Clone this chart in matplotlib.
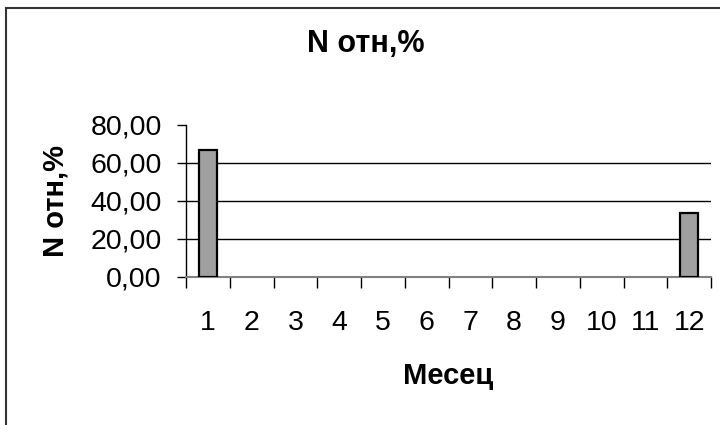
import matplotlib
matplotlib.use("Agg")
import matplotlib.pyplot as plt
from matplotlib.patches import Rectangle
import numpy as np

months = [1, 2, 3, 4, 5, 6, 7, 8, 9, 10, 11, 12]
values = [66.67, 0, 0, 0, 0, 0, 0, 0, 0, 0, 0, 33.33]
yticks = [0, 20, 40, 60, 80]
ytick_labels = ["0,00", "20,00", "40,00", "60,00", "80,00"]
title = "N отн,%"
ylabel = "N отн,%"
xlabel = "Месец"

plt.rcParams['font.family'] = ['Liberation Sans', 'DejaVu Sans']

fig = plt.figure(figsize=(7.2, 4.25), dpi=100)
W, H = 720, 425
# outer chart border (cropped on right/bottom)
fig.patches.append(Rectangle((6.5 / W, -0.05), 1.2, 1 - 7.5 / H + 0.05,
                             transform=fig.transFigure, fill=False,
                             edgecolor='#333333', linewidth=1.5))

ax = fig.add_axes([186 / W, 1 - 277 / H, (711 - 186) / W, (277 - 124.5) / H])
x = np.array(months)
edge_widths = [1.6 if v > 0 else 0 for v in values]
ax.bar(x, values, width=0.41, color='#A0A0A0', edgecolor='black',
       linewidth=edge_widths, zorder=3)

ax.set_xlim(0.5, 12.5)
ax.set_ylim(0, 80)

for g in yticks[1:-1]:
    ax.axhline(g, color='black', linewidth=1.0, zorder=1)

ax.spines['top'].set_visible(False)
ax.spines['right'].set_visible(False)
ax.spines['left'].set_color('black')
ax.spines['left'].set_linewidth(1.0)
ax.spines['bottom'].set_color('#808080')
ax.spines['bottom'].set_linewidth(1.5)

ax.set_yticks(yticks)
ax.set_yticklabels(ytick_labels, fontsize=20.5)
ax.tick_params(axis='y', length=6.5, width=1.0, pad=11, color='black')

ax.set_xticks(x)
ax.set_xticklabels([str(m) for m in months], fontsize=20.5)
ax.tick_params(axis='x', which='major', length=0, pad=24)
ax.set_xticks(np.arange(0.5, 13, 1), minor=True)
ax.tick_params(axis='x', which='minor', length=8, width=1.0, color='black')

fig.text(366 / W, 1 - 44 / H, title, ha='center', va='center',
         fontsize=22, fontweight='bold')
fig.text(56 / W, 1 - 201 / H, ylabel, ha='center', va='center',
         rotation=90, fontsize=21, fontweight='bold')
fig.text(448 / W, 1 - 376 / H, xlabel, ha='center', va='center',
         fontsize=21, fontweight='bold')

fig.savefig("out.png", dpi=100)
